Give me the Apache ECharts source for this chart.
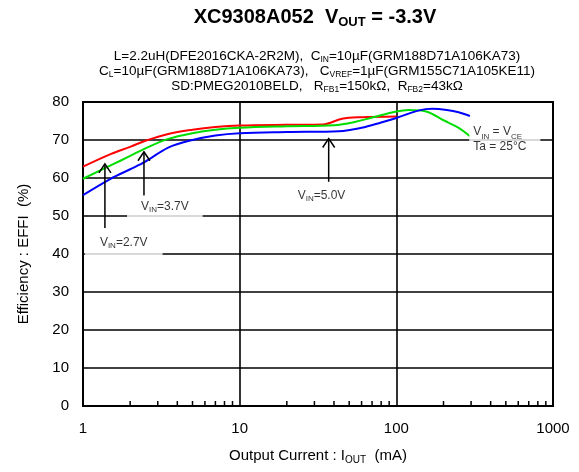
<!DOCTYPE html>
<html>
<head>
<meta charset="utf-8">
<script src="https://cdn.jsdelivr.net/npm/echarts@6/dist/echarts.min.js"></script>
<style>html,body{margin:0;padding:0;background:#fff}#c{width:579px;height:472px}</style>
</head>
<body>
<div id="c"></div>
<script>
// ---- data (Output current in mA, efficiency in %) ----
const iRed   = [1, 1.5, 2, 2.5, 3.5, 5, 7, 10, 20, 34, 45, 60, 100];
const effRed = [63.0, 66.3, 68.2, 69.8, 71.6, 72.7, 73.4, 73.8, 74.0, 74.1, 75.6, 76.0, 76.2];
const iGreen   = [1, 1.5, 2, 2.5, 3.5, 5, 7, 10, 20, 40, 55, 70, 100, 120, 155, 200, 250, 295];
const effGreen = [59.8, 63.3, 65.8, 67.8, 70.3, 71.8, 72.7, 73.2, 73.6, 73.9, 74.8, 75.9, 77.5, 77.9, 77.5, 75.2, 73.2, 71.0];
const iBlue   = [1, 1.5, 2, 2.5, 3.5, 5, 7, 10, 20, 43, 60, 80, 100, 140, 170, 210, 250, 295];
const effBlue = [55.5, 59.8, 62.3, 64.3, 68.0, 70.0, 71.2, 71.8, 72.1, 72.3, 73.2, 74.6, 75.8, 77.8, 78.2, 77.9, 77.3, 76.3];

const yTicks = [0, 10, 20, 30, 40, 50, 60, 70, 80];
const xMinorTicks = [2,3,4,5,6,7,8,9,20,30,40,50,60,70,80,90,200,300,400,500,600,700,800,900];

// annotation arrows: [x (mA), tail efficiency, tip efficiency]
const arrows = [[1.38, 46.8, 63.7], [2.45, 55.3, 66.9], [37.0, 59.0, 70.4]];
// annotation labels
const annLabels = ['{n|V}{s|IN}{n|=2.7V}', '{n|V}{s|IN}{n|=3.7V}', '{n|V}{s|IN}{n|=5.0V}'];
const annPos = [[1.82, 42.9], [3.33, 52.4], [33.3, 55.3]];
const condLabel = '{n|V}{s|IN}{n| = V}{s|CE}\n{n|Ta = 25°C}';
const condPos = [292, 70.1];

const titleText = 'XC9308A052  V{s|OUT} = -3.3V';
const subLines = [
  'L=2.2uH(DFE2016CKA-2R2M),  C{s|IN}=10µF(GRM188D71A106KA73)',
  'C{s|L}=10µF(GRM188D71A106KA73),   C{s|VREF}=1µF(GRM155C71A105KE11)',
  'SD:PMEG2010BELD,   R{s|FB1}=150kΩ,  R{s|FB2}=43kΩ'
];

const FONT = 'Liberation Sans, Arial, sans-serif';
const zip = (a, b) => a.map((v, i) => [v, b[i]]);

const chart = echarts.init(document.getElementById('c'), null, {renderer: 'canvas'});

const subRich = {
  s: {fontSize: 8.5, fontFamily: FONT, color: '#000', verticalAlign: 'bottom', padding: [0, 0, -1, 0]}
};

const titles = [{
  text: titleText,
  left: 310, top: 2, textAlign: 'center',
  textStyle: {fontSize: 20, fontWeight: 'bold', fontFamily: FONT, color: '#000',
    rich: {s: {fontSize: 13, fontWeight: 'bold', fontFamily: FONT, color: '#000', verticalAlign: 'bottom', padding: [0,0,-2,0]}}}
}];
subLines.forEach((t, i) => titles.push({
  text: t, left: 312, top: 44 + i * 15, textAlign: 'center',
  textStyle: {fontSize: 13.5, fontWeight: 'normal', fontFamily: FONT, color: '#000', rich: subRich}
}));

const lineSeries = (name, xs, ys, color) => ({
  type: 'line', name, data: zip(xs, ys), showSymbol: false, smooth: 0.35,
  lineStyle: {color, width: 2}, z: 3, silent: true
});

const labelRich = {
  n: {fontSize: 12, fontFamily: FONT, color: '#000'},
  s: {fontSize: 8, fontFamily: FONT, color: '#000', verticalAlign: 'bottom', padding: [0,0,-1,0]}
};
const labelPads = [[9, 15, 9, 15], [5, 14, 6, 14], [2, 2, 2, 2]];

chart.setOption({
  animation: false,
  backgroundColor: '#fff',
  title: titles,
  grid: {left: 83, right: 26, top: 102, bottom: 66, show: true, borderColor: '#000', borderWidth: 2, backgroundColor: 'transparent'},
  xAxis: {
    type: 'log', logBase: 10, min: 1, max: 1000,
    name: 'Output Current : I{s|OUT}  (mA)', nameLocation: 'middle', nameGap: 42,
    nameTextStyle: {fontSize: 15, fontFamily: FONT, color: '#000', rich: {s: {fontSize: 10, fontFamily: FONT, color: '#000', verticalAlign: 'bottom', padding: [0,0,-2,0]}}},
    axisLine: {show: true, lineStyle: {color: '#000', width: 2}},
    axisTick: {show: false},
    axisLabel: {fontSize: 15, fontFamily: FONT, color: '#000', margin: 15, formatter: v => String(Math.round(v))},
    splitLine: {show: true, lineStyle: {color: '#000', width: 1.6}}
  },
  yAxis: {
    type: 'value', min: yTicks[0], max: yTicks[yTicks.length - 1], interval: 10,
    name: 'Efficiency : EFFI  (%)', nameLocation: 'middle', nameGap: 52,
    nameTextStyle: {fontSize: 15, fontFamily: FONT, color: '#000'},
    axisLine: {show: true, lineStyle: {color: '#000', width: 2}},
    axisTick: {show: false},
    axisLabel: {fontSize: 15, fontFamily: FONT, color: '#000', margin: 14},
    splitLine: {show: true, lineStyle: {color: '#000', width: 1.6}}
  },
  series: [
    lineSeries('2.7V', iRed, effRed, '#ff0000'),
    lineSeries('3.7V', iGreen, effGreen, '#00dd00'),
    lineSeries('5.0V', iBlue, effBlue, '#0000ff'),
    {
      type: 'custom', silent: true, z: 4,
      data: xMinorTicks.map(v => [v, 0]),
      renderItem: (params, api) => {
        const p = api.coord([api.value(0), api.value(1)]);
        return {type: 'line', shape: {x1: p[0], y1: p[1], x2: p[0], y2: p[1] - 5}, style: {stroke: '#000', lineWidth: 1.5}};
      }
    },
    {
      type: 'custom', silent: true, z: 5,
      data: arrows,
      encode: {x: 0, y: [1, 2]},
      renderItem: (params, api) => {
        const x = api.value(0);
        const p0 = api.coord([x, api.value(1)]);
        const p1 = api.coord([x, api.value(2)]);
        return {type: 'group', children: [
          {type: 'line', shape: {x1: p0[0], y1: p0[1], x2: p1[0], y2: p1[1]}, style: {stroke: '#000', lineWidth: 1.5}},
          {type: 'polyline', shape: {points: [[p1[0] - 6, p1[1] + 9], [p1[0], p1[1]], [p1[0] + 6, p1[1] + 9]]}, style: {stroke: '#000', fill: null, lineWidth: 1.5}}
        ]};
      }
    },
    {
      type: 'scatter', silent: true, symbolSize: 0, z: 6,
      data: annPos.map((p, i) => ({
        value: p,
        label: {show: true, position: 'inside', formatter: annLabels[i],
          backgroundColor: '#fff', padding: labelPads[i], rich: labelRich}
      })).concat([{
        value: condPos,
        label: {show: true, position: 'right', distance: 0, align: 'left',
          formatter: condLabel,
          backgroundColor: '#fff', padding: [3, 14, 3, 4], lineHeight: 15, rich: labelRich}
      }])
    }
  ]
});
</script>
</body>
</html>
